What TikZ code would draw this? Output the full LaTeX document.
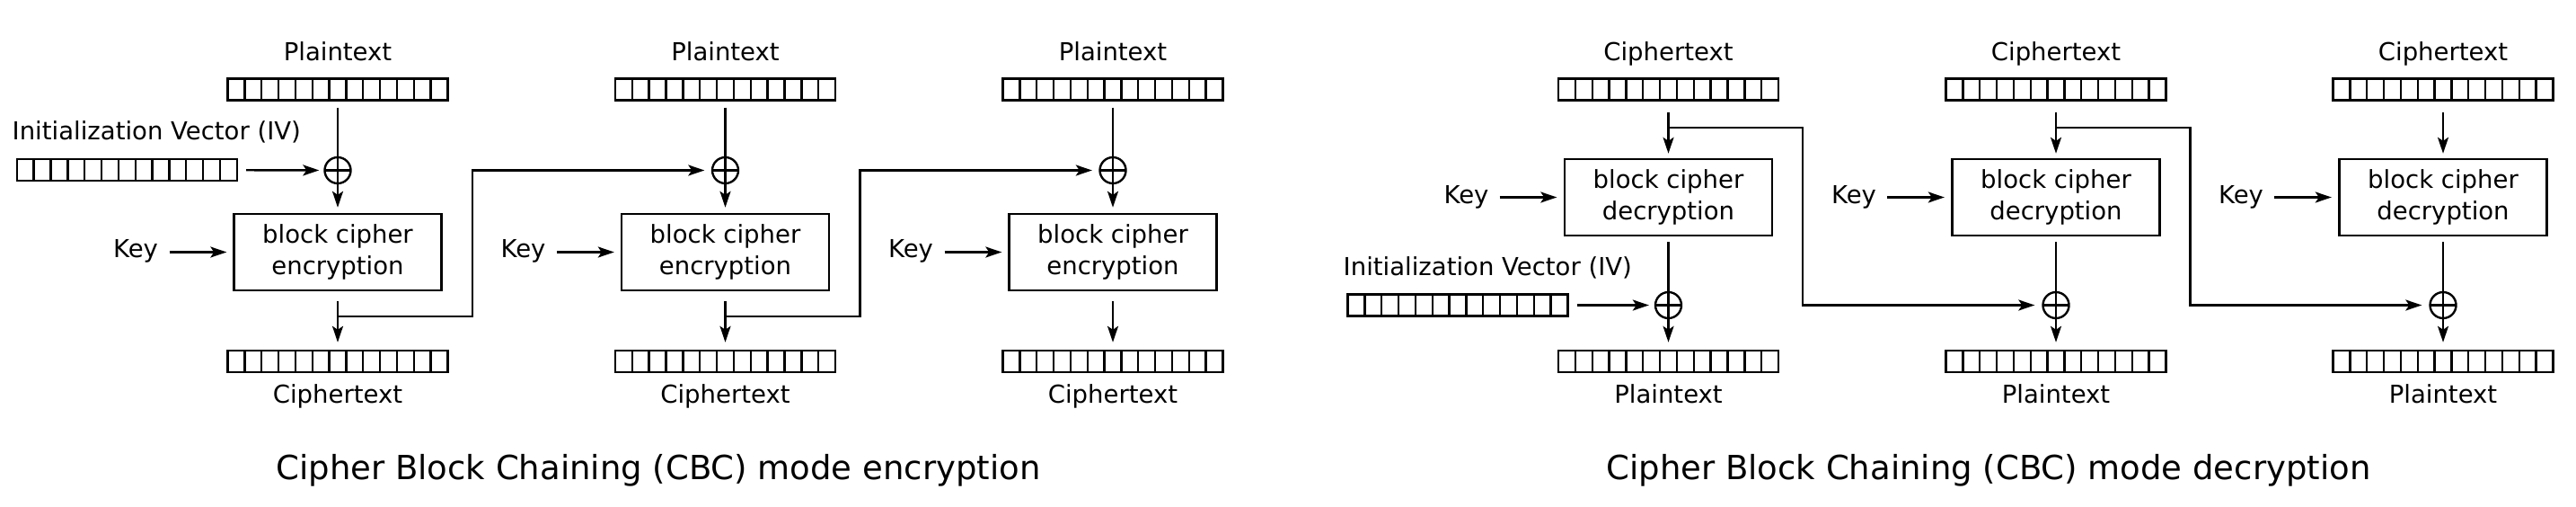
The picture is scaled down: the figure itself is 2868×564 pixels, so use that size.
\documentclass[tikz,border=0pt]{standalone}
\usepackage{fontspec}
\setmainfont{DejaVu Sans}
\usetikzlibrary{arrows.meta,calc}
\newcommand\lblsize{\fontsize{27.5pt}{34.5pt}\selectfont}
\newcommand\ttlsize{\fontsize{37pt}{44pt}\selectfont}
\tikzset{
  ln/.style={line width=2.4pt},
  arr/.style={line width=2.4pt,-{Stealth[length=18pt,width=12pt,inset=4pt]}},
  txt/.style={inner sep=0pt,font=\lblsize},
  reg/.style={draw,line width=2.4pt,minimum width=245pt,minimum height=24pt,inner sep=0pt,
    path picture={\foreach \k in {1,...,12}{
      \draw[line width=2.4pt] ($(path picture bounding box.south west)!\k/13!(path picture bounding box.south east)$) --
                             ($(path picture bounding box.north west)!\k/13!(path picture bounding box.north east)$);}}},
  xor/.style={draw,circle,line width=2.4pt,minimum size=29pt,inner sep=0pt,
    path picture={\draw[line width=2.4pt] (path picture bounding box.west) -- (path picture bounding box.east);
                  \draw[line width=2.4pt] (path picture bounding box.north) -- (path picture bounding box.south);}},
  cbox/.style={draw,line width=2.4pt,minimum width=231pt,minimum height=85pt,inner sep=0pt,align=center,font=\lblsize},
}
\begin{document}
\begin{tikzpicture}[x=1pt,y=-1pt]
\useasboundingbox (0,0) rectangle (2868,564);
% ---------- Encryption ----------
\foreach \i/\X in {1/376,2/807.5,3/1239}{
  \node[txt,anchor=base] (ep\i) at (\X,67.7) {Plaintext};
  \node[reg] (epr\i) at (\X,99.5) {};
  \node[xor] (ex\i) at (\X,189.5) {};
  \node[cbox] (eb\i) at (\X,280.5) {block cipher\\encryption};
  \node[txt,anchor=base] (ek\i) at ({\X-225},287) {Key};
  \node[reg] (ecr\i) at (\X,402) {};
  \node[txt,anchor=base] (ec\i) at (\X,448) {Ciphertext};
  \coordinate (ej\i) at (\X,352);
  \coordinate (ef\i) at ({\X+150},189.5);
  \draw[ln,shorten <=7pt] (epr\i) -- (ex\i.center);
  \draw[arr,shorten >=6pt] (ex\i.center) -- (eb\i);
  \draw[arr,shorten <=12.5pt,shorten >=7pt] (ek\i.east |- eb\i.west) -- (eb\i.west);
  \draw[arr,shorten <=11pt,shorten >=8pt] (eb\i) -- (ecr\i);
}
\node[txt,anchor=base west] (eivl) at (13.5,156) {Initialization Vector (IV)};
\node[reg] (eiv) at (141.3,189) {};
\draw[arr,shorten <=9pt,shorten >=5pt] (eiv) -- (ex1);
\draw[arr,shorten >=7.5pt] (ej1) -| (ef1) -- (ex2);
\draw[arr,shorten >=7.5pt] (ej2) -| (ef2) -- (ex3);
\node[anchor=base,inner sep=0pt,font=\ttlsize] (etitle) at (733,533) {Cipher Block Chaining (CBC) mode encryption};
% ---------- Decryption ----------
\foreach \i/\X in {1/1857.5,2/2289,3/2720}{
  \node[txt,anchor=base] (dc\i) at (\X,68) {Ciphertext};
  \node[reg] (dcr\i) at (\X,99.5) {};
  \node[cbox] (db\i) at (\X,219.5) {block cipher\\decryption};
  \node[txt,anchor=base] (dk\i) at ({\X-225},227) {Key};
  \node[xor] (dx\i) at (\X,339.5) {};
  \node[reg] (dpr\i) at (\X,402) {};
  \node[txt,anchor=base] (dp\i) at (\X,448) {Plaintext};
  \coordinate (dj\i) at (\X,142);
  \coordinate (df\i) at ({\X+149.5},339.5);
  \draw[arr,shorten <=12pt,shorten >=5pt] (dcr\i) -- (db\i);
  \draw[arr,shorten <=12pt,shorten >=7.5pt] (dk\i.east |- db\i.west) -- (db\i.west);
  \draw[ln,shorten <=6pt] (db\i) -- (dx\i.center);
  \draw[arr,shorten >=8pt] (dx\i.center) -- (dpr\i);
}
\node[txt,anchor=base west] (divl) at (1495.5,306) {Initialization Vector (IV)};
\node[reg] (div) at (1623,339.5) {};
\draw[arr,shorten <=9pt,shorten >=6pt] (div) -- (dx1);
\draw[arr,shorten >=8pt] (dj1) -| (df1) -- (dx2);
\draw[arr,shorten >=8pt] (dj2) -| (df2) -- (dx3);
\node[anchor=base,inner sep=0pt,font=\ttlsize] (dtitle) at (2214,533) {Cipher Block Chaining (CBC) mode decryption};
\end{tikzpicture}
\end{document}
